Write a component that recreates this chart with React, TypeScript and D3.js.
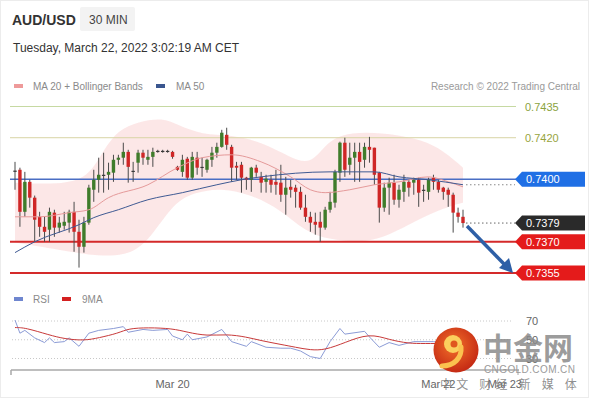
import React from 'react';
import * as d3 from 'd3';

// ---------- data ----------
const OPEN = [0.74042,0.74046,0.73844,0.73988,0.73912,0.73820,0.73772,0.73758,0.73840,0.73768,0.73777,0.73792,0.73844,0.73748,0.73676,0.73792,0.73950,0.73998,0.74022,0.74022,0.74032,0.74094,0.74104,0.74132,0.74036,0.74080,0.74128,0.74094,0.74108,0.74137,0.74135,0.74137,0.74132,0.74060,0.74036,0.74099,0.74008,0.74104,0.74056,0.74046,0.74094,0.74128,0.74156,0.74214,0.74156,0.74065,0.74070,0.74008,0.73998,0.74056,0.74012,0.73988,0.73998,0.73988,0.73984,0.73926,0.73964,0.73960,0.73940,0.73864,0.73820,0.73796,0.73796,0.73768,0.73854,0.73888,0.74032,0.74176,0.74070,0.74104,0.74132,0.74094,0.74156,0.74152,0.74032,0.73864,0.73960,0.73984,0.73902,0.73940,0.73988,0.73984,0.73998,0.73950,0.73940,0.74008,0.73988,0.73960,0.73950,0.73926,0.73840,0.73820];
const HIGH = [0.74084,0.74056,0.74036,0.73998,0.73922,0.73844,0.73820,0.73864,0.73854,0.73820,0.73844,0.73854,0.73892,0.73806,0.73820,0.73974,0.74046,0.74104,0.74128,0.74080,0.74118,0.74118,0.74176,0.74142,0.74084,0.74142,0.74142,0.74142,0.74152,0.74142,0.74142,0.74142,0.74137,0.74065,0.74118,0.74108,0.74132,0.74132,0.74104,0.74099,0.74156,0.74176,0.74238,0.74248,0.74166,0.74084,0.74084,0.74012,0.74060,0.74070,0.74036,0.74022,0.74022,0.74046,0.74070,0.74012,0.73998,0.73974,0.73964,0.73926,0.73844,0.73840,0.73844,0.73868,0.73940,0.74046,0.74181,0.74200,0.74176,0.74176,0.74176,0.74176,0.74204,0.74152,0.74036,0.73984,0.74008,0.74022,0.73974,0.74022,0.73998,0.74008,0.74008,0.73974,0.74008,0.74022,0.73998,0.73964,0.73960,0.73936,0.73864,0.73854];
const LOW = [0.73950,0.73772,0.73820,0.73864,0.73700,0.73724,0.73700,0.73700,0.73724,0.73744,0.73758,0.73744,0.73652,0.73576,0.73648,0.73782,0.73892,0.73936,0.73936,0.73950,0.73988,0.74070,0.74070,0.73984,0.73988,0.74032,0.74070,0.74070,0.74060,0.74128,0.74128,0.74128,0.74099,0.74041,0.74012,0.73998,0.73998,0.74022,0.74012,0.74032,0.74060,0.74104,0.74152,0.74142,0.73988,0.73998,0.73936,0.73950,0.73940,0.74012,0.73936,0.73936,0.73936,0.73926,0.73892,0.73830,0.73912,0.73864,0.73854,0.73796,0.73748,0.73734,0.73700,0.73758,0.73840,0.73864,0.73988,0.74012,0.74022,0.73988,0.73988,0.74056,0.74080,0.73974,0.73792,0.73844,0.73830,0.73878,0.73864,0.73892,0.73917,0.73926,0.73868,0.73892,0.73902,0.73950,0.73936,0.73902,0.73868,0.73744,0.73792,0.73768];
const CLOSE = [0.74036,0.73844,0.73988,0.73912,0.73806,0.73772,0.73748,0.73844,0.73768,0.73792,0.73796,0.73844,0.73748,0.73676,0.73792,0.73960,0.73998,0.74022,0.74017,0.74036,0.74094,0.74104,0.74132,0.74060,0.74041,0.74128,0.74104,0.74108,0.74132,0.74135,0.74137,0.74132,0.74108,0.74046,0.74094,0.74008,0.74108,0.74056,0.74060,0.74094,0.74128,0.74156,0.74224,0.74166,0.74056,0.74056,0.74008,0.73998,0.74056,0.74032,0.73984,0.74003,0.73974,0.73974,0.73926,0.73960,0.73950,0.73940,0.73864,0.73820,0.73792,0.73782,0.73768,0.73854,0.73892,0.74036,0.74176,0.74046,0.74104,0.74132,0.74084,0.74156,0.74142,0.74022,0.73864,0.73960,0.73984,0.73902,0.73950,0.73988,0.73960,0.73998,0.73936,0.73948,0.73998,0.73988,0.73950,0.73940,0.73926,0.73840,0.73820,0.73790];

const MA20_IDX = [0, 5, 11, 15, 19, 27, 33, 38, 44, 50, 56, 60, 63, 68, 73, 78, 84, 88, 91];
const MA20_VAL = [0.73820,0.73820,0.73840,0.73854,0.73912,0.73974,0.74056,0.74104,0.74118,0.74084,0.74012,0.73950,0.73936,0.73950,0.73974,0.73988,0.74012,0.73988,0.73964];

const MA50_IDX = [0, 4, 13, 16, 21, 27, 34, 41, 46, 50, 64, 73, 78, 84, 91];
const MA50_VAL = [0.73648,0.73700,0.73782,0.73816,0.73854,0.73902,0.73936,0.73974,0.73998,0.74012,0.74036,0.74036,0.74012,0.73998,0.73974];

const BB_UP_IDX = [0, 9, 15, 18, 21, 25, 30, 33, 38, 44, 50, 56, 60, 63, 66, 71, 78, 84, 88, 91];
const BB_UP_VAL = [0.73984,0.73974,0.74008,0.74142,0.74238,0.74276,0.74296,0.74262,0.74214,0.74214,0.74180,0.74104,0.74070,0.74166,0.74214,0.74228,0.74214,0.74180,0.74118,0.74056];
const BB_LO_IDX = [0, 9, 17, 24, 28, 32, 36, 42, 48, 54, 59, 64, 70, 75, 80, 86, 91];
const BB_LO_VAL = [0.73696,0.73662,0.73628,0.73638,0.73734,0.73878,0.73936,0.73960,0.73926,0.73854,0.73748,0.73710,0.73696,0.73720,0.73782,0.73854,0.73888];

const LEVELS = [0.7435, 0.7420, 0.7400, 0.7379, 0.7370, 0.7355];
const LEVEL_LABELS = ['0.7435', '0.7420', '0.7400', '0.7379', '0.7370', '0.7355'];

const RSI_IDX = [0,1,2,4,6,7,8,10,11,13,15,17,20,22,23,26,28,31,32,34,35,36,39,42,44,47,48,51,54,56,58,60,62,64,66,67,71,72,74,76,78,81,85,88,91];
const RSI_VAL = [71,57,60,52,47,52,47,48,52,43,57,60,62,64,58,61,60,61,54,50,56,50,53,61,48,43,48,42,41,41,38,32,30,48,62,56,59,53,42,47,44,48,48,46,44];
const RSI9_IDX = [0,2,7,10,14,17,21,23,27,32,35,39,43,47,50,54,57,60,63,67,72,76,80,83,88,91];
const RSI9_VAL = [63,63,55,51,49,52,57,62,63,62,58,54,56,53,49,45,42,39,39,47,57,50,46,46,46,45];
const RSI_TICKS = [70, 50, 30];

const DATE_IDX = [32, 86, 99.5];
const DATE_LABELS = ['Mar 20', 'Mar 22', 'Mar 23'];

const FONT = 'Liberation Sans, Arial, Helvetica, sans-serif';

export default function App() {
  const x = d3.scaleLinear().domain([0, 91]).range([15, 463]);
  const y = d3.scaleLinear().domain([0.7355, 0.7435]).range([273, 106.5]);
  const ry = d3.scaleLinear().domain([30, 70]).range([358.5, 321]);

  const pts = (idx: number[], val: number[]) => idx.map((d, i) => [d, val[i]] as [number, number]);
  const basis = d3.line<[number, number]>().x(d => x(d[0])).y(d => y(d[1])).curve(d3.curveBasis);
  const mono = d3.line<[number, number]>().x(d => x(d[0])).y(d => y(d[1])).curve(d3.curveMonotoneX);
  const rsiLine = d3.line<[number, number]>().x(d => x(d[0])).y(d => ry(d[1]));
  const rsiSmooth = d3.line<[number, number]>().x(d => x(d[0])).y(d => ry(d[1])).curve(d3.curveBasis);

  const up = basis(pts(BB_UP_IDX, BB_UP_VAL)) || '';
  const lo = basis(pts(BB_LO_IDX, BB_LO_VAL).reverse()) || '';
  const bandPath = up + 'L' + lo.slice(1) + 'Z';

  const lineStyles: Record<number, any> = {
    0: { line: '#c6d9a2', w: 1, text: '#8aa23e' },
    1: { line: '#d8d4a4', w: 1, text: '#97a43d' },
    2: { line: '#4a6ec4', w: 1.5, tag: '#1f6fe5' },
    3: { line: null, w: 0, tag: '#2a2a2a' },
    4: { line: '#d42a2a', w: 2, tag: '#e41b1b' },
    5: { line: '#d42a2a', w: 2, tag: '#e41b1b' },
  };

  const bw = 3.4;
  const lastIdx = CLOSE.length - 1;

  return (
    <svg width={590} height={400} style={{ position: 'absolute', left: 0, top: 0, display: 'block', background: '#fff' }} fontFamily={FONT}>
      <defs>
        <radialGradient id="lg" cx="45%" cy="40%" r="60%">
          <stop offset="0%" stopColor="#f2702a" />
          <stop offset="100%" stopColor="#c52a14" />
        </radialGradient>
      </defs>
      <rect x={0.5} y={0.5} width={588} height={397} fill="#fff" stroke="#ececec" />

      {/* header */}
      <text x={12} y={25} fontSize={14} fontWeight="bold" fill="#333">AUD/USD</text>
      <rect x={80} y={7} width={55} height={24} rx={2} fill="#f3f3f3" />
      <text x={89} y={24} fontSize={12} fill="#444">30 MIN</text>
      <text x={13} y={52} fontSize={12} fill="#333">Tuesday, March 22, 2022 3:02:19 AM CET</text>

      {/* legend */}
      <rect x={14} y={84} width={9} height={4} fill="#ee9a9a" />
      <text x={33} y={90} fontSize={10} fill="#8a8a8a">MA 20 + Bollinger Bands</text>
      <rect x={156} y={84} width={9} height={4} fill="#3a568f" />
      <text x={176} y={90} fontSize={10} fill="#8a8a8a">MA 50</text>
      <text x={580} y={90} fontSize={10} fill="#9a9a9a" textAnchor="end">Research © 2022 Trading Central</text>

      {/* bollinger band */}
      <path d={bandPath} fill="#f9d3d3" fillOpacity={0.55} stroke="none" />

      {/* level lines */}
      {LEVELS.map((lv, i) => lineStyles[i].line ? (
        <line key={'l' + i} x1={10} x2={516} y1={y(lv)} y2={y(lv)} stroke={lineStyles[i].line} strokeWidth={lineStyles[i].w} />
      ) : null)}
      <line x1={466} x2={515} y1={y(LEVELS[3])} y2={y(LEVELS[3])} stroke="#666" strokeWidth={1} strokeDasharray="1.5,2.5" />
      <line x1={466} x2={515} y1={y(MA50_VAL[MA50_VAL.length - 1])} y2={y(MA50_VAL[MA50_VAL.length - 1])} stroke="#888" strokeWidth={1} strokeDasharray="1.5,2.5" />

      {/* candles */}
      {OPEN.map((o, i) => {
        const c = CLOSE[i];
        const diff = c - o;
        const col = Math.abs(diff) < 0.00006 ? '#3a3a3a' : diff > 0 ? '#3f7c2b' : '#cf2626';
        const top = y(Math.max(o, c));
        const h = Math.max(1.2, Math.abs(y(o) - y(c)));
        return (
          <g key={'c' + i}>
            <line x1={x(i)} x2={x(i)} y1={y(HIGH[i])} y2={y(LOW[i])} stroke="#4a4a4a" strokeWidth={1} />
            <rect x={x(i) - bw / 2} y={top} width={bw} height={h} fill={col} />
          </g>
        );
      })}

      {/* moving averages */}
      <path d={mono(pts(MA20_IDX, MA20_VAL)) || ''} fill="none" stroke="#e59a9a" strokeWidth={1} />
      <path d={mono(pts(MA50_IDX, MA50_VAL)) || ''} fill="none" stroke="#3f5a93" strokeWidth={1} />

      {/* arrow */}
      <line x1={x(lastIdx) + 4} y1={y(CLOSE[lastIdx]) + 3} x2={505} y2={265} stroke="#2e5fa6" strokeWidth={3.5} />
      <polygon points="513,273 499,268 509,258" fill="#2e5fa6" />

      {/* level labels / tags */}
      {LEVELS.map((lv, i) => {
        const yy = y(lv);
        const st = lineStyles[i];
        if (!st.tag) {
          return <text key={'t' + i} x={525} y={yy + 4} fontSize={11} fill={st.text}>{LEVEL_LABELS[i]}</text>;
        }
        return (
          <g key={'t' + i}>
            <polygon points={`515,${yy} 522,${yy - 7.5} 585,${yy - 7.5} 585,${yy + 7.5} 522,${yy + 7.5}`} fill={st.tag} />
            <text x={526} y={yy + 4} fontSize={11} fill="#fff">{LEVEL_LABELS[i]}</text>
          </g>
        );
      })}

      {/* RSI panel */}
      <rect x={14} y={297} width={9} height={4} fill="#6f86cf" />
      <text x={33} y={303} fontSize={10} fill="#8a8a8a">RSI</text>
      <rect x={62} y={297} width={9} height={4} fill="#d42020" />
      <text x={82} y={303} fontSize={10} fill="#8a8a8a">9MA</text>

      {RSI_TICKS.map(t => (
        <g key={'r' + t}>
          <line x1={12} x2={512} y1={ry(t)} y2={ry(t)} stroke="#c8c8c8" strokeWidth={1} strokeDasharray="1,2" />
          <text x={532} y={ry(t) + 4} fontSize={11} fill="#666" textAnchor="middle">{t}</text>
        </g>
      ))}
      <path d={rsiLine(pts(RSI_IDX, RSI_VAL)) || ''} fill="none" stroke="#8b9bd6" strokeWidth={1} />
      <path d={rsiSmooth(pts(RSI9_IDX, RSI9_VAL)) || ''} fill="none" stroke="#c83a3a" strokeWidth={1} />

      {/* x axis */}
      <line x1={11} x2={519} y1={370} y2={370} stroke="#a8a8a8" strokeWidth={1.5} />
      <line x1={11} x2={11} y1={370} y2={375} stroke="#a8a8a8" strokeWidth={1.5} />
      <line x1={518} x2={518} y1={370} y2={375} stroke="#a8a8a8" strokeWidth={1} />
      {DATE_IDX.map((d, i) => (
        <text key={'d' + i} x={x(d)} y={388} fontSize={11} fill="#666" textAnchor="middle">{DATE_LABELS[i]}</text>
      ))}

      {/* watermark */}
      <g>
        <circle cx={456} cy={350} r={22.5} fill="url(#lg)" />
        <circle cx={453} cy={344} r={9} fill="#fbcf5e" />
        <circle cx={454} cy={344} r={3.5} fill="#e0571f" />
        <path d="M461,347 C462,358 454,366 442,366" fill="none" stroke="#fbc24f" strokeWidth={5} strokeLinecap="round" />
        <text x={483} y={359} fontSize={30} fontWeight="bold" fill="#8a8a8a" fillOpacity={0.85} fontFamily="Noto Sans CJK SC">中金网</text>
        <text x={484} y={373} fontSize={10} fill="#9a9a9a" letterSpacing={0.4}>CNGOLD.COM.CN</text>
        <text x={440} y={389} fontSize={12} fill="#7a7a7a" fillOpacity={0.85} letterSpacing={4.2} fontFamily="Noto Sans CJK SC">中文 财经 新 媒 体</text>
      </g>
    </svg>
  );
}
